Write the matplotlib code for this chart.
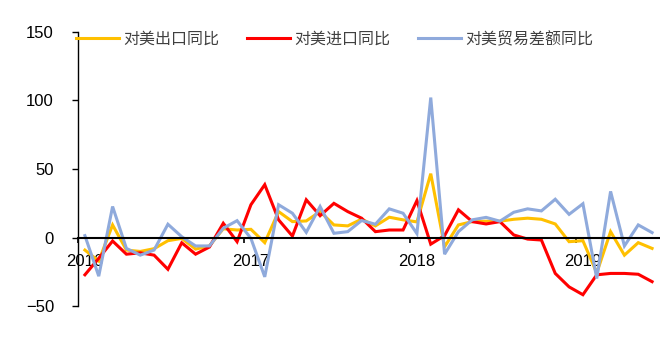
import matplotlib
matplotlib.use("Agg")
import matplotlib.pyplot as plt

# ---- data: monthly, Jan 2016 .. Jun 2019 ----
years = ["2016", "2017", "2018", "2019"]

export_yoy = [-9, -17, 9.3, -9, -10, -8, -2.2, -0.5, -8.3, -6,
              6.5, 5.6, 6.1, -3.6, 19, 11.7, 12.2, 19, 9.3, 8.6,
              13.5, 8.6, 14.9, 13, 11.5, 46.6, -6.6, 9.3, 11.7, 12,
              12, 13.4, 14.2, 13.4, 10, -2.9, -2.2, -25.6, 4.4, -12.7,
              -3.6, -7.8]

import_yoy = [-27, -15, -2.4, -12, -11, -12.7, -23, -3.7, -12, -6.8,
              10.5, -2.9, 24, 38.6, 13, 1.2, 27.6, 16, 25, 19,
              14.2, 4.4, 5.6, 5.6, 27, -4.7, 1.5, 20.3, 11.7, 10,
              11.7, 2, -1, -1.7, -26, -35.8, -41.5, -27, -26, -26,
              -26.6, -32]

balance_yoy = [1.5, -28, 22.7, -7.8, -12.7, -9, 9.8, 0.7, -6, -6,
               6.9, 12.4, -0.5, -28.5, 24, 17.8, 3.9, 22.7, 3.2, 4.4,
               12.5, 9.8, 21, 17.8, 3, 102, -12, 4.4, 13, 14.8,
               12, 18.5, 21, 19.5, 28, 17, 24.7, -29.7, 33.7, -6,
               9.3, 3.7]

labels = ["对美出口同比", "对美进口同比", "对美贸易差额同比"]
colors = ["#FFC000", "#FF0000", "#8FAADC"]

plt.rcParams["font.family"] = ["Liberation Sans", "Noto Sans CJK SC", "DejaVu Sans"]

fig = plt.figure(figsize=(6.6, 3.47), dpi=100)
ax = fig.add_axes([78 / 660, (347 - 306.4) / 347, (659 - 78) / 660, (306.4 - 31.6) / 347])

x = list(range(len(export_yoy)))
for series, lab, col in zip([export_yoy, import_yoy, balance_yoy], labels, colors):
    ax.plot(x, series, color=col, lw=2.2, label=lab, solid_joinstyle="miter")

ax.set_xlim(-0.5, len(x) - 0.5)
ax.set_ylim(-50, 150)
ax.set_yticks([-50, 0, 50, 100, 150])

# year boundaries as ticks, year labels under January
ax.set_xticks([-0.5, 11.5, 23.5, 35.5])
ax.set_xticklabels([])
ax.set_xticks([0, 12, 24, 36], minor=True)
ax.set_xticklabels(years, minor=True)
ax.tick_params(axis="x", which="major", direction="out", length=3.5, width=1.2)
ax.tick_params(axis="x", which="minor", length=0, pad=11.5, labelsize=12)
ax.tick_params(axis="y", direction="out", length=4.3, width=1, pad=13, labelsize=12)

ax.spines["top"].set_visible(False)
ax.spines["right"].set_visible(False)
ax.spines["bottom"].set_position(("data", 0))
ax.spines["bottom"].set_linewidth(1.5)
ax.spines["left"].set_linewidth(1.0)

fig.legend(loc="center left", bbox_to_anchor=(76 / 660, 1 - 39.3 / 347),
           ncol=3, frameon=False, borderpad=0, borderaxespad=0,
           handlelength=2.7, handletextpad=0.25, columnspacing=1.75,
           prop={"family": ["Noto Sans CJK SC", "DejaVu Sans"], "size": 11.5},
           labelcolor="#404040")

fig.savefig("out.png", dpi=100)
